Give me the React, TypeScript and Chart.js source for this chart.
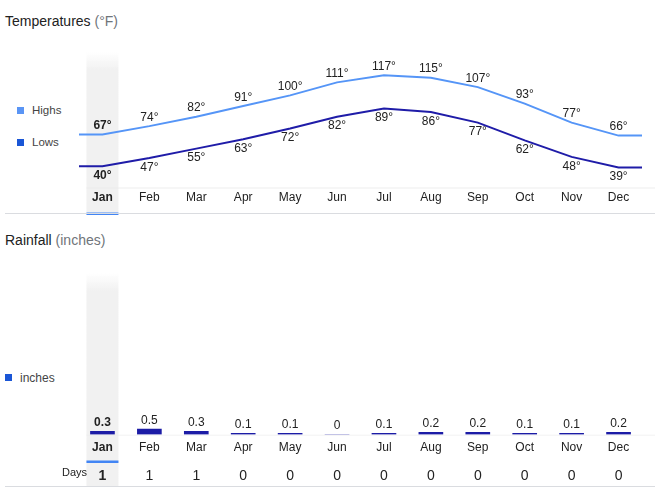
import React, { useEffect, useRef } from "react";
import { Chart, registerables } from "chart.js";

Chart.register(...registerables);

// ---- data ----
const MONTHS = ["Jan", "Feb", "Mar", "Apr", "May", "Jun", "Jul", "Aug", "Sep", "Oct", "Nov", "Dec"];
const HIGHS = [67, 74, 82, 91, 100, 111, 117, 115, 107, 93, 77, 66];
const LOWS = [40, 47, 55, 63, 72, 82, 89, 86, 77, 62, 48, 39];
const RAIN = [0.3, 0.5, 0.3, 0.1, 0.1, 0, 0.1, 0.2, 0.2, 0.1, 0.1, 0.2];
const DAYS = [1, 1, 1, 0, 0, 0, 0, 0, 0, 0, 0, 0];
const SELECTED = 0;

const FONT = '"Liberation Sans", Arial, Helvetica, sans-serif';
const TEXT = "#222222";
const HIGH_COLOR = "#5595f7";
const LOW_COLOR = "#1f1ca8";
const BAR_COLOR = "#1c1ca6";
const ACCENT = "#4285f4";

const extend = (arr: number[]) => [
  { x: -0.5, y: arr[0] },
  ...arr.map((v, i) => ({ x: i, y: v })),
  { x: arr.length - 0.5, y: arr[arr.length - 1] },
];

const highlightColumn = (chart: any, top: number, bottom: number, underlineY: number) => {
  const { ctx } = chart;
  const xs = chart.scales.x;
  const cx = xs.getPixelForValue(SELECTED);
  ctx.save();
  const g = ctx.createLinearGradient(0, top, 0, top + 18);
  g.addColorStop(0, "rgba(241,241,241,0)");
  g.addColorStop(1, "#f1f1f1");
  ctx.fillStyle = g;
  ctx.fillRect(cx - 16, top, 32, bottom - top);
  ctx.fillStyle = ACCENT;
  ctx.fillRect(cx - 16, underlineY, 32, 2.5);
  ctx.restore();
  return cx;
};

const tempPlugin = {
  id: "tempDecor",
  beforeDraw(chart: any) {
    const { ctx, chartArea } = chart;
    const cx = highlightColumn(chart, chartArea.top - 2, chartArea.bottom + 22.5, chartArea.bottom + 22.5);
    ctx.save();
    ctx.fillStyle = "rgba(235,235,235,0.45)";
    ctx.fillRect(cx - 16, chartArea.bottom - 3, chartArea.right + 13 - (cx - 16), 2);
    ctx.restore();
  },
  afterDatasetsDraw(chart: any) {
    const { ctx } = chart;
    ctx.save();
    ctx.textAlign = "center";
    ctx.textBaseline = "middle";
    ctx.fillStyle = TEXT;
    [HIGHS, LOWS].forEach((series, di) => {
      const meta = chart.getDatasetMeta(di);
      series.forEach((v, m) => {
        const pt = meta.data[m + 1];
        ctx.font = `${m === SELECTED ? "bold " : ""}12px ${FONT}`;
        const y = di === 0 ? pt.y - 8.5 : pt.y + 9.5;
        ctx.fillText(`${v}°`, pt.x, y);
      });
    });
    ctx.restore();
  },
};

const rainPlugin = {
  id: "rainDecor",
  beforeDraw(chart: any) {
    const { ctx, chartArea } = chart;
    const cx = highlightColumn(chart, chartArea.top - 8.5, chartArea.bottom + 52.5, chartArea.bottom + 26);
    ctx.save();
    ctx.fillStyle = "rgba(235,235,235,0.45)";
    ctx.fillRect(cx - 16, chartArea.bottom, chartArea.right + 13 - (cx - 16), 1.5);
    ctx.restore();
  },
  afterDatasetsDraw(chart: any) {
    const { ctx } = chart;
    const meta = chart.getDatasetMeta(0);
    ctx.save();
    ctx.textAlign = "center";
    ctx.textBaseline = "middle";
    ctx.fillStyle = TEXT;
    RAIN.forEach((v, i) => {
      const bar = meta.data[i];
      ctx.font = `${i === SELECTED ? "bold " : ""}12px ${FONT}`;
      ctx.fillText(String(v), bar.x, bar.y - 8.5);
    });
    ctx.restore();
  },
};

const tickFont = (size: number) => (c: any) => ({
  family: FONT,
  size,
  weight: c.index === SELECTED ? "bold" : "normal",
});

export default function App() {
  const tempRef = useRef<HTMLCanvasElement>(null);
  const rainRef = useRef<HTMLCanvasElement>(null);

  useEffect(() => {
    const temp = new Chart(tempRef.current as HTMLCanvasElement, {
      type: "line",
      data: {
        datasets: [
          { label: "Highs", data: extend(HIGHS), borderColor: HIGH_COLOR, borderWidth: 2, pointRadius: 0, tension: 0, fill: false },
          { label: "Lows", data: extend(LOWS), borderColor: LOW_COLOR, borderWidth: 2, pointRadius: 0, tension: 0, fill: false },
        ],
      },
      options: {
        animation: false,
        responsive: false,
        events: [],
        layout: { padding: { left: 79, right: 21, top: 14, bottom: 4 } },
        plugins: { legend: { display: false }, tooltip: { enabled: false } },
        scales: {
          x: {
            type: "linear",
            min: -0.5,
            max: MONTHS.length - 0.5,
            grid: { display: false },
            border: { display: false },
            afterBuildTicks: (s: any) => {
              s.ticks = MONTHS.map((_, i) => ({ value: i }));
            },
            afterFit: (s: any) => {
              s.height = 26;
            },
            ticks: {
              autoSkip: false,
              maxRotation: 0,
              padding: -8,
              color: TEXT,
              font: tickFont(12) as any,
              callback: (v: any) => MONTHS[v],
            },
          },
          y: { display: false, min: 20, max: 135 },
        },
      } as any,
      plugins: [tempPlugin],
    });

    const rain = new Chart(rainRef.current as HTMLCanvasElement, {
      type: "bar",
      data: {
        labels: MONTHS,
        datasets: [
          { label: "inches", data: RAIN, backgroundColor: BAR_COLOR, barThickness: 24, xAxisID: "x", yAxisID: "y" },
        ],
      },
      options: {
        animation: false,
        responsive: false,
        events: [],
        layout: { padding: { left: 79, right: 21, top: 21.5, bottom: 8.5 } },
        plugins: { legend: { display: false }, tooltip: { enabled: false } },
        scales: {
          x: {
            type: "category",
            position: "bottom",
            offset: true,
            weight: 0,
            grid: { display: false },
            border: { display: false },
            afterFit: (s: any) => {
              s.height = 26;
            },
            ticks: { autoSkip: false, maxRotation: 0, padding: -2, color: TEXT, font: tickFont(12) as any },
          },
          x2: {
            type: "category",
            position: "bottom",
            labels: DAYS.map(String),
            offset: true,
            weight: 1,
            grid: { display: false },
            border: { display: false },
            afterFit: (s: any) => {
              s.height = 22;
            },
            ticks: { autoSkip: false, maxRotation: 0, padding: -1, color: TEXT, font: tickFont(14) as any },
          },
          y: { display: false, min: 0, max: 14 },
        },
      } as any,
      plugins: [rainPlugin],
    });

    return () => {
      temp.destroy();
      rain.destroy();
    };
  }, []);

  const abs = (s: React.CSSProperties): React.CSSProperties => ({ position: "absolute", ...s });
  const legendText: React.CSSProperties = { fontSize: 12, color: "#444", lineHeight: "14px", whiteSpace: "nowrap" };

  return (
    <div style={abs({ left: 0, top: 0, width: 663, height: 491, background: "#fff", fontFamily: FONT, overflow: "hidden" })}>
      <div style={abs({ left: 5, top: 12, fontSize: 14, lineHeight: "18px", color: TEXT, whiteSpace: "nowrap" })}>
        Temperatures <span style={{ color: "#70757a" }}>(°F)</span>
      </div>
      <div style={abs({ left: 17, top: 107, width: 7, height: 7, background: "#5a95f5" })} />
      <div style={abs({ left: 32, top: 103, ...legendText, fontSize: 11.5 })}>Highs</div>
      <div style={abs({ left: 17, top: 139, width: 7, height: 7, background: "#1a56d6" })} />
      <div style={abs({ left: 32, top: 135, ...legendText, fontSize: 11.5 })}>Lows</div>
      <canvas ref={tempRef} width={663} height={180} style={abs({ left: 0, top: 40 })} />
      <div style={abs({ left: 5, top: 213, width: 650, height: 1, background: "#dadce0" })} />

      <div style={abs({ left: 5, top: 231, fontSize: 14, lineHeight: "18px", color: TEXT, whiteSpace: "nowrap" })}>
        Rainfall <span style={{ color: "#70757a" }}>(inches)</span>
      </div>
      <div style={abs({ left: 5, top: 374, width: 7, height: 7, background: "#1a56d6" })} />
      <div style={abs({ left: 20, top: 371, ...legendText })}>inches</div>
      <canvas ref={rainRef} width={663} height={231} style={abs({ left: 0, top: 260 })} />
      <div style={abs({ left: 52, top: 465, width: 35, textAlign: "right", fontSize: 11, lineHeight: "14px", color: TEXT })}>
        Days
      </div>
      <div style={abs({ left: 5, top: 486, width: 650, height: 1, background: "#dadce0" })} />
    </div>
  );
}
